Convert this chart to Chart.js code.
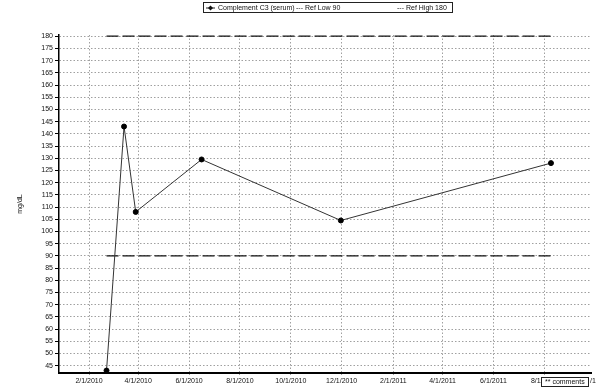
<!DOCTYPE html>
<html><head><meta charset="utf-8">
<script src="https://cdn.jsdelivr.net/npm/chart.js@4/dist/chart.umd.min.js"></script>
<style>html,body{margin:0;padding:0;background:#fff;overflow:hidden}</style>
</head><body><canvas id="c" width="596" height="388"></canvas>
<script>
const seriesLabel = 'Complement C3 (serum)';
const dates = ['2010-02-22','2010-03-15','2010-03-29','2010-06-16','2010-11-30','2011-08-09'];
const values = [43, 143, 108, 129.5, 104.5, 128];
const refLowLabel = 'Ref Low 90';
const refLow = 90;
const refHighLabel = 'Ref High 180';
const refHigh = 180;
const xTickDates = ['2010-02-01','2010-04-01','2010-06-01','2010-08-01','2010-10-01','2010-12-01','2011-02-01','2011-04-01','2011-06-01','2011-08-01'];
const xTickLabels = ['2/1/2010','4/1/2010','6/1/2010','8/1/2010','10/1/2010','12/1/2010','2/1/2011','4/1/2011','6/1/2011','8/1/2011'];
const xMinDate = '2009-12-27';
const xMaxDate = '2011-09-26';
const yMin = 42, yMax = 180.5, yFirstTick = 45, yLastTick = 180, yStep = 5;
const yTitle = 'mg/dL';
const noteText = '** comments';

const day = s => Date.parse(s + 'T00:00:00Z') / 86400000;
const FONT = 'Liberation Sans, Arial, sans-serif';

const seriesData = dates.map((d, i) => ({x: day(d), y: values[i]}));
const firstX = day(dates[0]), lastX = day(dates[dates.length - 1]);

const legendPlugin = {
  id: 'boxLegend',
  afterDraw(chart) {
    const ctx = chart.ctx;
    ctx.save();
    ctx.strokeStyle = '#222'; ctx.lineWidth = 1;
    ctx.strokeRect(203.5, 2.5, 249, 10);
    ctx.font = '7px ' + FONT; ctx.fillStyle = '#111'; ctx.textBaseline = 'middle';
    const y = 8;
    ctx.beginPath(); ctx.moveTo(206, y); ctx.lineTo(215, y); ctx.stroke();
    ctx.beginPath(); ctx.moveTo(210.5, y - 2.5); ctx.lineTo(213, y); ctx.lineTo(210.5, y + 2.5); ctx.lineTo(208, y); ctx.closePath(); ctx.fill();
    const ds = chart.data.datasets;
    ctx.fillText(ds[0].label, 218, y);
    ctx.fillText('--- ' + ds[1].label, 296, y);
    ctx.fillText('--- ' + ds[2].label, 397, y);
    ctx.fillStyle = '#fff';
    ctx.fillRect(541, 377, 48, 10);
    ctx.strokeRect(541.5, 377.5, 47, 9);
    ctx.fillStyle = '#111';
    ctx.fillText(noteText, 545, 382.5);
    ctx.fillText('/1', 590, 381);
    ctx.restore();
  }
};

new Chart(document.getElementById('c'), {
  type: 'line',
  data: {
    datasets: [
      {label: seriesLabel, data: seriesData, borderColor: '#333', borderWidth: 1, pointRadius: 2.5,
       pointBackgroundColor: '#000', pointBorderColor: '#000', tension: 0},
      {label: refLowLabel, data: [{x: firstX, y: refLow}, {x: lastX, y: refLow}], borderColor: '#111', borderWidth: 1.2,
       borderDash: [12, 4], pointRadius: 0},
      {label: refHighLabel, data: [{x: firstX, y: refHigh}, {x: lastX, y: refHigh}], borderColor: '#111', borderWidth: 1.2,
       borderDash: [12, 4], pointRadius: 0}
    ]
  },
  options: {
    responsive: false, animation: false, devicePixelRatio: 1,
    layout: {padding: {top: 35, left: 0, right: 0, bottom: 0}},
    plugins: {legend: {display: false}, tooltip: {enabled: false}},
    scales: {
      x: {
        type: 'linear', min: day(xMinDate), max: day(xMaxDate),
        afterBuildTicks: s => { s.ticks = xTickDates.map(d => ({value: day(d)})); },
        afterFit: s => { s.height = 15; },
        ticks: {autoSkip: false, maxRotation: 0, padding: 2, color: '#111', font: {family: FONT, size: 7},
                callback: (v, i) => xTickLabels[i]},
        grid: {color: '#a0a0a0', lineWidth: 1, tickLength: 2, drawTicks: true},
        border: {display: true, color: '#000', width: 2, dash: [1.5, 2]}
      },
      y: {
        min: yMin, max: yMax,
        afterBuildTicks: s => { const t = []; for (let v = yFirstTick; v <= yLastTick; v += yStep) t.push({value: v}); s.ticks = t; },
        afterFit: s => { s.width = 59; },
        ticks: {padding: 2, color: '#111', font: {family: FONT, size: 7}},
        grid: {color: '#a0a0a0', lineWidth: 1, tickLength: 4, tickColor: '#000', tickBorderDash: []},
        border: {display: true, color: '#000', width: 1.5, dash: [1.5, 2]},
        title: {display: true, text: yTitle, color: '#111', font: {family: FONT, size: 7}, padding: {top: 16, bottom: 0}}
      }
    }
  },
  plugins: [legendPlugin]
});
</script>
</body></html>
